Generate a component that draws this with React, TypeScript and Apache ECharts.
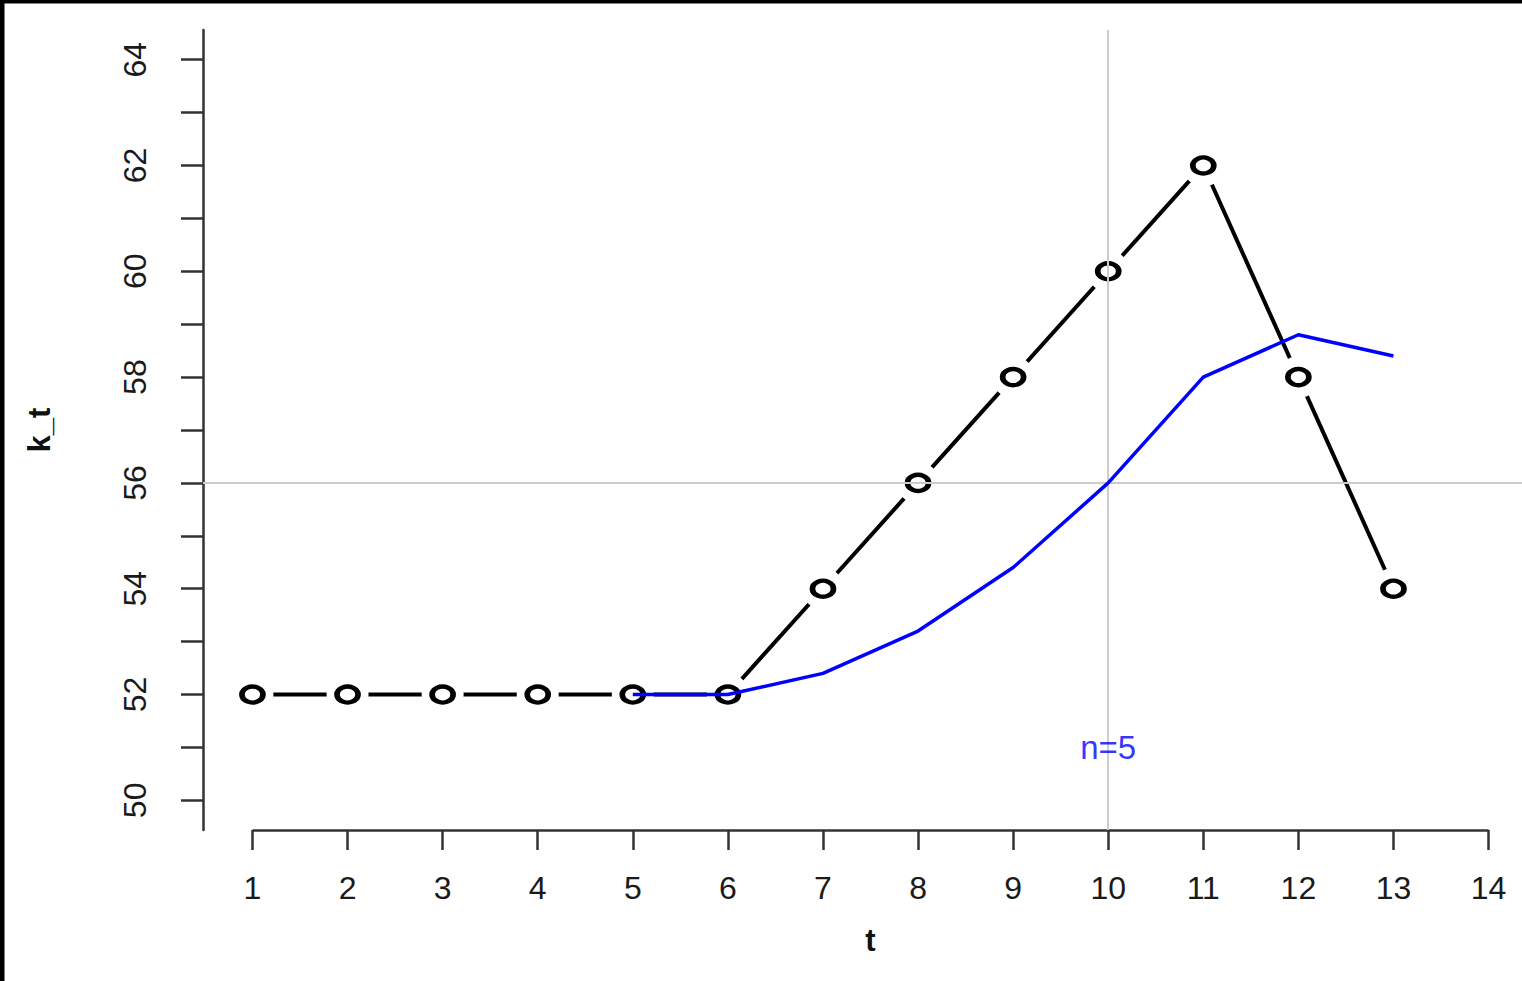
import React, { useEffect, useRef } from "react";
import * as echarts from "echarts";

const tValues = [1, 2, 3, 4, 5, 6, 7, 8, 9, 10, 11, 12, 13];
const ktValues = [52, 52, 52, 52, 52, 52, 54, 56, 58, 60, 62, 58, 54];
const maT = [5, 6, 7, 8, 9, 10, 11, 12, 13];
const maValues = [52, 52, 52.4, 53.2, 54.4, 56, 58, 58.8, 58.4];
const xTicks = [1, 2, 3, 4, 5, 6, 7, 8, 9, 10, 11, 12, 13, 14];
const yTicks = [50, 51, 52, 53, 54, 55, 56, 57, 58, 59, 60, 61, 62, 63, 64];
const yLabels = [50, 52, 54, 56, 58, 60, 62, 64];
const refX = 10;
const refY = 56;
const annotation = { t: 10, k: 51, text: "n=5" };

const X_MIN = 0.48;
const X_MAX = 14.52;
const Y_MIN = 49.44;
const Y_MAX = 64.56;

const FONT = "'Liberation Sans', Arial, sans-serif";

export default function App() {
  const ref = useRef<HTMLDivElement>(null);
  useEffect(() => {
    document.body.style.margin = "0";
    if (!ref.current) return;
    const chart = echarts.init(ref.current, null, { renderer: "svg" });
    const black = tValues.map((t, i) => [t, ktValues[i]]);
    const blue = maT.map((t, i) => [t, maValues[i]]);
    chart.setOption({
      animation: false,
      backgroundColor: "#ffffff",
      grid: {
        left: 203,
        top: 30,
        width: 1335,
        height: 800,
        outerBoundsMode: "none",
        containLabel: false,
      },
      graphic: [
        { type: "rect", left: 0, top: 0, shape: { width: 4.5, height: 981 }, style: { fill: "#000" }, z: 100 },
        { type: "rect", left: 0, top: 0, shape: { width: 1522, height: 3.5 }, style: { fill: "#000" }, z: 100 },
      ],
      xAxis: {
        type: "value",
        min: X_MIN,
        max: X_MAX,
        name: "t",
        nameLocation: "middle",
        nameGap: 95,
        nameTextStyle: { fontFamily: FONT, fontSize: 31, fontWeight: "bold", color: "#111" },
        axisLine: { show: false },
        splitLine: { show: false },
        axisTick: {
          show: true,
          customValues: xTicks,
          length: 20,
          inside: false,
          lineStyle: { color: "#333", width: 2.5 },
        },
        axisLabel: {
          customValues: xTicks,
          margin: 42,
          fontFamily: FONT,
          fontSize: 32,
          color: "#1a1a1a",
        },
      },
      yAxis: {
        type: "value",
        min: Y_MIN,
        max: Y_MAX,
        name: "k_t",
        nameLocation: "middle",
        nameGap: 148,
        nameRotate: 90,
        nameTextStyle: { fontFamily: FONT, fontSize: 31, fontWeight: "bold", color: "#111" },
        axisLine: { show: true, lineStyle: { color: "#333", width: 2.5 } },
        splitLine: { show: false },
        axisTick: {
          show: true,
          customValues: yTicks,
          length: 22,
          inside: false,
          lineStyle: { color: "#333", width: 2.5 },
        },
        axisLabel: {
          customValues: yLabels,
          rotate: 90,
          margin: 52,
          fontFamily: FONT,
          fontSize: 32,
          color: "#1a1a1a",
        },
      },
      series: [
        {
          type: "line",
          data: black,
          z: 2,
          symbol: "none",
          lineStyle: { color: "#000", width: 4 },
          silent: true,
          markLine: {
            silent: true,
            symbol: "none",
            label: { show: false },
            lineStyle: { color: "#333", width: 2.5, type: "solid" },
            data: [[{ coord: [xTicks[0], Y_MIN] }, { coord: [xTicks[xTicks.length - 1], Y_MIN] }]],
          },
        },
        {
          type: "scatter",
          data: black,
          z: 3,
          symbol: "circle",
          symbolSize: 42,
          itemStyle: { color: "#ffffff", opacity: 1 },
          silent: true,
        },
        {
          type: "scatter",
          data: black,
          z: 4,
          symbol: "circle",
          symbolSize: [21, 16],
          itemStyle: { color: "rgba(255,255,255,0)", borderColor: "#000", borderWidth: 5, opacity: 1 },
          silent: true,
        },
        {
          type: "line",
          data: [],
          z: 5,
          silent: true,
          markLine: {
            silent: true,
            symbol: "none",
            label: { show: false },
            lineStyle: { color: "#cccccc", width: 2, type: "solid" },
            data: [{ xAxis: refX }, { yAxis: refY }],
          },
        },
        {
          type: "line",
          data: blue,
          z: 6,
          symbol: "none",
          lineStyle: { color: "#0000ff", width: 3.5 },
          silent: true,
        },
        {
          type: "scatter",
          data: [[annotation.t, annotation.k]],
          z: 7,
          symbolSize: 0,
          silent: true,
          label: {
            show: true,
            position: "inside",
            formatter: annotation.text,
            fontFamily: FONT,
            fontSize: 33,
            color: "#0000ff",
          },
        },
      ],
    });
    return () => chart.dispose();
  }, []);
  return <div ref={ref} style={{ width: 1522, height: 981 }} />;
}
